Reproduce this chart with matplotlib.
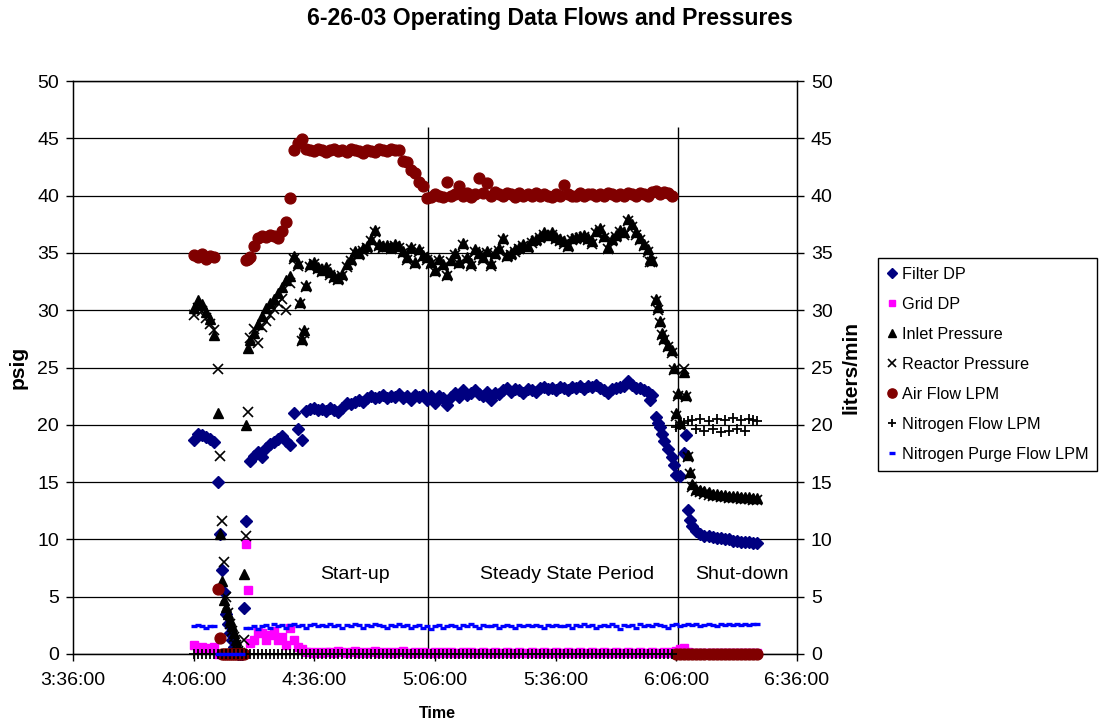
import numpy as np
import matplotlib
matplotlib.use("Agg")
import matplotlib.pyplot as plt
from matplotlib.ticker import FixedLocator, FuncFormatter

plt.rcParams['font.family'] = ['Liberation Sans', 'DejaVu Sans']

nan = float('nan')

# Readings logged once a minute, 4:06 to 6:26 (minutes after midnight)
start_min = 246
end_min = 386
minutes = np.arange(start_min, end_min + 1)

filter_dp = [
    18.7, 19.2, 19.1, 18.9, 18.8, 18.5,
    15.0, 7.3, 3.5, 1.8, 0.6, 0.0, 0.0, 11.6,
    16.8, 17.3, 17.6, 17.2, 18.0, 18.3, 18.5, 18.8, 19.0, 18.6,
    18.2, 21.0, 19.6, 18.7, 21.2, 21.4, 21.5, 21.3, 21.4, 21.2,
    21.5, 21.3, 21.1, 21.5, 21.9, 21.8, 22.0, 22.2, 22.0, 22.3,
    22.5, 22.3, 22.4, 22.6, 22.3, 22.5, 22.4, 22.7, 22.3, 22.5,
    22.2, 22.6, 22.4, 22.6, 22.2, 22.5, 21.9, 22.5, 22.3, 21.7,
    22.4, 22.8, 22.4, 23.0, 22.6, 22.8, 23.0, 22.7, 22.5, 22.9,
    22.2, 22.8, 22.7, 23.0, 23.2, 22.9, 23.1, 23.0, 22.8, 23.1,
    23.0, 22.9, 23.2, 23.3, 23.1, 23.2, 23.0, 23.3, 23.2, 23.0,
    23.3, 23.2, 23.4, 23.1, 23.4, 23.3, 23.5, 23.2, 23.0, 22.8,
    23.1, 23.2, 23.3, 23.4, 23.8, 23.5, 23.2, 23.2, 23.0, 22.9,
    22.6, 20.7, 19.8, 18.6, 17.9, 17.2, 15.6, 15.5, 17.5, 12.6,
    11.2, 10.7, 10.5, 10.3, 10.3, 10.2, 10.1, 10.1, 10.0, 10.0,
    9.9, 9.9, 9.8, 9.8, 9.8, 9.7, 9.7,
]

grid_dp = [
    0.8, 0.5, 0.6, 0.4, 0.5, 0.6,
    0.0, 0.0, 0.0, 0.0, 0.0, 0.0, 0.0, 9.6,
    1.0, 1.2, 1.9, 1.8, 1.2, 1.7, 2.0, 1.2, 1.5, 0.8,
    2.3, 1.2, 0.6, 0.4, 0.2, 0.2, 0.1, 0.2, 0.1, 0.2,
    0.2, 0.1, 0.3, 0.2, 0.1, 0.2, 0.3, 0.1, 0.2, 0.1,
    0.2, 0.3, 0.1, 0.2, 0.1, 0.2, 0.1, 0.2, 0.3, 0.1,
    0.1, 0.2, 0.1, 0.2, 0.1, 0.1, 0.2, 0.1, 0.2, 0.1,
    0.2, 0.1, 0.1, 0.2, 0.1, 0.2, 0.1, 0.1, 0.2, 0.1,
    0.1, 0.2, 0.1, 0.1, 0.2, 0.1, 0.1, 0.2, 0.1, 0.1,
    0.2, 0.1, 0.1, 0.2, 0.1, 0.1, 0.2, 0.1, 0.1, 0.2,
    0.1, 0.1, 0.2, 0.1, 0.1, 0.2, 0.1, 0.1, 0.2, 0.1,
    0.1, 0.2, 0.1, 0.1, 0.2, 0.1, 0.1, 0.2, 0.1, 0.1,
    0.2, 0.1, 0.1, 0.2, 0.1, 0.2, 0.3, 0.4, 0.5, 0.2,
    0.1, 0.1, 0.1, 0.1, 0.1, 0.1, 0.1, 0.1, 0.1, 0.1,
    0.1, 0.1, 0.1, 0.1, 0.1, 0.1, 0.1,
]

inlet_pressure = [
    30.2, 30.9, 30.5, 29.8, 29.2, 27.8,
    21.0, 6.4, 4.1, 3.0, 1.8, 0.6, 0.2, 20.0,
    27.4, 28.0, 28.8, 29.5, 30.2, 30.6, 31.0, 31.5, 32.0, 32.6,
    33.0, 34.7, 34.1, 27.5, 32.2, 34.0, 34.2, 33.8, 33.5, 33.8,
    33.3, 33.0, 32.8, 33.2, 34.0, 34.5, 35.2, 35.0, 35.4, 35.6,
    36.2, 37.0, 35.8, 35.6, 35.7, 35.5, 35.8, 35.6, 35.2, 34.6,
    35.5, 34.2, 35.3, 34.8, 34.6, 34.2, 33.5, 34.5, 34.0, 33.2,
    34.4, 35.0, 34.2, 35.9, 34.6, 34.1, 35.3, 35.0, 34.6, 35.2,
    34.1, 35.0, 35.4, 36.3, 34.8, 35.0, 35.3, 35.5, 35.8, 35.6,
    36.1, 36.2, 36.5, 36.8, 36.6, 36.8, 36.4, 36.2, 36.0, 35.7,
    36.3, 36.4, 36.5, 36.6, 36.3, 36.0, 36.9, 37.2, 36.5, 35.5,
    36.2, 36.6, 37.0, 36.8, 38.0, 37.5, 36.8, 36.3, 35.8, 35.3,
    34.4, 31.0, 29.1, 27.6, 27.0, 26.5, 21.0, 20.2, 24.6, 17.4,
    14.8, 14.4, 14.3, 14.2, 14.1, 14.0, 14.0, 13.9, 13.9, 13.8,
    13.8, 13.8, 13.7, 13.7, 13.7, 13.6, 13.6,
]

reactor_pressure = [
    29.6, 30.2, 29.9, 29.3, 28.8, 28.3,
    24.9, 11.6, 5.0, 2.6, 1.5, 0.3, 0.0, 10.3,
    27.6, 28.4, 27.1, 28.5, 29.1, 29.6, 30.1, 30.6, 31.0, 30.0,
    32.4, 34.5, 33.9, 27.3, 32.0, 33.8, 34.0, 33.6, 33.3, 33.6,
    33.1, 32.8, 32.6, 33.0, 33.8, 34.3, 35.0, 34.8, 35.2, 35.4,
    36.0, 36.8, 35.6, 35.4, 35.5, 35.3, 35.6, 35.4, 35.0, 34.4,
    35.3, 34.0, 35.1, 34.6, 34.4, 34.0, 33.3, 34.3, 33.8, 33.0,
    34.2, 34.8, 34.0, 35.7, 34.4, 33.9, 35.1, 34.8, 34.4, 35.0,
    33.9, 34.8, 35.2, 36.1, 34.6, 34.8, 35.1, 35.3, 35.6, 35.4,
    35.9, 36.0, 36.3, 36.6, 36.4, 36.6, 36.2, 36.0, 35.8, 35.5,
    36.1, 36.2, 36.3, 36.4, 36.1, 35.8, 36.7, 37.0, 36.3, 35.3,
    36.0, 36.4, 36.8, 36.6, 37.8, 37.3, 36.6, 36.1, 35.6, 35.1,
    34.2, 30.8, 28.9, 27.4, 26.8, 26.3, 20.8, 20.0, 24.9, 17.2,
    14.6, 14.2, 14.1, 14.0, 13.9, 13.8, 13.8, 13.7, 13.7, 13.6,
    13.6, 13.6, 13.5, 13.5, 13.5, 13.4, 13.4,
]

air_flow = [
    34.8, 34.6, 34.9, 34.5, 34.7, 34.6,
    5.7, 0.0, 0.0, 0.0, 0.0, 0.0, 0.0, 34.4,
    34.6, 35.6, 36.3, 36.5, 36.4, 36.6, 36.5, 36.3, 36.9, 37.7,
    39.8, 44.0, 44.6, 44.9, 44.1, 44.0, 43.9, 44.1, 44.0, 43.8,
    44.0, 44.1, 43.9, 44.0, 43.8, 44.1, 44.0, 43.9, 43.7, 44.0,
    43.9, 43.8, 44.1, 44.0, 43.9, 44.1, 44.0, 44.0, 43.0, 42.9,
    42.2, 42.0, 41.2, 40.8, 39.8, 39.9, 40.1, 40.0, 39.9, 41.2,
    40.0, 40.1, 40.8, 40.0, 40.2, 39.9, 40.1, 41.5, 40.2, 41.1,
    40.0, 40.3, 40.1, 40.0, 40.2, 40.1, 39.9, 40.2, 40.0, 40.1,
    40.0, 40.2, 40.0, 40.1, 40.0, 39.9, 40.1, 40.0, 40.9, 40.1,
    40.0, 40.0, 40.2, 40.0, 40.1, 40.1, 40.0, 40.1, 40.0, 40.2,
    40.1, 40.0, 40.1, 40.0, 40.2, 40.1, 40.0, 40.2, 40.1, 40.0,
    40.3, 40.4, 40.1, 40.3, 40.2, 40.0, 0.0, 0.0, 0.0, 0.0,
    0.0, 0.0, 0.0, 0.0, 0.0, 0.0, 0.0, 0.0, 0.0, 0.0,
    0.0, 0.0, 0.0, 0.0, 0.0, 0.0, 0.0,
]

nitrogen_flow = [0.0] * 120 + [
    19.8, 20.0, 20.2, 20.3, 20.4, 19.6, 20.5, 19.5, 20.3, 19.6,
    20.5, 19.4, 20.4, 19.5, 20.6, 19.6, 20.4, 19.5, 20.5, 20.4,
    20.3,
]

purge_flow = [
    2.4, 2.5, 2.4, 2.3, 2.4, 2.4,
    0.0, 0.0, 0.0, 0.0, 0.0, 0.0, 0.0, 2.3,
    2.3, 2.4, 2.2, 2.4, 2.5, 2.3, 2.6, 2.4, 2.5, 2.3,
    2.5, 2.6, 2.4, 2.5, 2.3, 2.5, 2.6, 2.4, 2.5, 2.4,
    2.6, 2.4, 2.5, 2.3, 2.5, 2.4, 2.6, 2.5, 2.3, 2.5,
    2.4, 2.6, 2.5, 2.4, 2.3, 2.5, 2.4, 2.6, 2.4, 2.5,
    2.3, 2.4, 2.5, 2.3, 2.4, 2.2, 2.4, 2.5, 2.3, 2.4,
    2.5, 2.4, 2.3, 2.5, 2.4, 2.6, 2.4, 2.3, 2.5, 2.4,
    2.4, 2.5, 2.3, 2.4, 2.5, 2.4, 2.3, 2.5, 2.4, 2.5,
    2.4, 2.5, 2.4, 2.3, 2.5, 2.4, 2.5, 2.4, 2.4, 2.5,
    2.3, 2.5, 2.4, 2.6, 2.4, 2.5, 2.3, 2.4, 2.5, 2.4,
    2.6, 2.4, 2.2, 2.5, 2.4, 2.5, 2.3, 2.6, 2.4, 2.5,
    2.4, 2.6, 2.5, 2.4, 2.3, 2.5, 2.6, 2.4, 2.5, 2.6,
    2.5, 2.6, 2.4, 2.5, 2.6, 2.5, 2.4, 2.6, 2.5, 2.6,
    2.5, 2.6, 2.5, 2.6, 2.5, 2.6, 2.6,
]

# Additional half-minute readings around the start-up trip and the shut-down
extra_minutes = [252.5, 253.5, 254.5, 255.5, 256.5, 257.5, 258.5, 259.5,
                 272.5, 273.5, 359.5, 361.5, 362.5, 365.5, 366.5, 368.5, 369.5]
filter_dp_extra = [10.5, 5.4, 2.6, 1.2, 0.2, 0.0, 4.0, nan,
                   nan, nan, 22.2, 20.2, 19.2, 16.5, nan, 19.1, 11.7]
grid_dp_extra = [nan, nan, nan, nan, nan, nan, nan, 5.6,
                 nan, nan, nan, nan, nan, nan, nan, nan, nan]
inlet_extra = [10.5, 4.7, 3.5, 2.4, 1.2, 0.2, 7.0, 26.7,
               30.7, 28.3, 34.5, 30.3, 28.0, 25.0, 22.8, 22.6, 15.9]
reactor_extra = [17.3, 8.0, 3.6, 2.0, 0.8, 0.1, 1.2, 21.1,
                 30.5, 28.0, 34.2, 30.0, 27.8, 24.8, 22.5, 22.4, 15.7]
air_flow_extra = [1.4, 0.0, 0.0, 0.0, 0.0, 0.0, 0.0, 34.5,
                  nan, nan, nan, nan, nan, nan, nan, nan, nan]

phase_bounds = [304.3, 366.4]
phase_line_top = 46.0
phase_names = ["Start-up", "Steady State Period", "Shut-down"]
phase_label_x = [286.1, 338.8, 382.3]
phase_label_y = 6.9

x_ticks = [216, 246, 276, 306, 336, 366, 396]
y_ticks = [0, 5, 10, 15, 20, 25, 30, 35, 40, 45, 50]

fig = plt.figure(figsize=(10.99, 7.25), dpi=100)
ax = fig.add_axes([73 / 1099, 1 - 654 / 725, (797 - 73) / 1099, (654 - 81) / 725])


def both(main, extra):
    t = np.concatenate([minutes, extra_minutes])
    v = np.concatenate([np.asarray(main, float), np.asarray(extra, float)])
    return t, v


series = [
    ("Filter DP", both(filter_dp, filter_dp_extra),
     dict(marker='D', color='#000080', ms=6.0, mec='#000080')),
    ("Grid DP", both(grid_dp, grid_dp_extra),
     dict(marker='s', color='#FF00FF', ms=5.8, mec='#FF00FF')),
    ("Inlet Pressure", both(inlet_pressure, inlet_extra),
     dict(marker='^', color='black', ms=7.0, mec='black')),
    ("Reactor Pressure", both(reactor_pressure, reactor_extra),
     dict(marker='x', color='black', ms=6.5, mew=1.2)),
    ("Air Flow LPM", both(air_flow, air_flow_extra),
     dict(marker='o', color='#800000', ms=7.8, mec='#800000')),
    ("Nitrogen Flow LPM", (minutes, np.asarray(nitrogen_flow, float)),
     dict(marker='+', color='black', ms=7.0, mew=1.3)),
    ("Nitrogen Purge Flow LPM", (minutes, np.asarray(purge_flow, float)),
     dict(marker='_', color='#0000FF', ms=5.0, mew=2.4)),
]

# Markers sitting on the zero line are drawn whole, spilling past the axis
for z, (name, (t, v), style) in enumerate(series):
    ax.plot(t, v, linestyle='none', label=name, zorder=3 + z * 0.1,
            clip_on=False, **style)

ax.vlines(phase_bounds, 0, phase_line_top, color='black', lw=1.0, zorder=2)
for name, x in zip(phase_names, phase_label_x):
    ax.text(x, phase_label_y, name, ha='center', va='center', fontsize=14)

ax.set_xlim(x_ticks[0], x_ticks[-1])
ax.set_ylim(0, 50)
ax.xaxis.set_major_locator(FixedLocator(x_ticks))
ax.xaxis.set_major_formatter(FuncFormatter(
    lambda m, _: f"{int(m) // 60}:{int(m) % 60:02d}:00"))
ax.yaxis.set_major_locator(FixedLocator(y_ticks))
ax.grid(axis='y', color='black', lw=0.9)
ax.set_axisbelow(True)
for s in ax.spines.values():
    s.set_color('black')
    s.set_linewidth(1.0)
ax.tick_params(axis='both', direction='out', length=5, width=1,
               labelsize=14, colors='black')
ax.tick_params(axis='x', pad=8)
ax.tick_params(axis='y', pad=5)

ax2 = ax.twinx()
ax2.set_ylim(0, 50)
ax2.yaxis.set_major_locator(FixedLocator(y_ticks))
ax2.tick_params(axis='y', direction='out', length=5, width=1,
                labelsize=14, pad=5)
ax2.set_zorder(ax.get_zorder() - 1)
ax.patch.set_visible(False)

fig.text(0.5, 1 - 18 / 725, "6-26-03 Operating Data Flows and Pressures",
         ha='center', va='center', fontsize=16.6, fontweight='bold')
fig.text(18 / 1099, 1 - 367 / 725, "psig", rotation=90, ha='center',
         va='center', fontsize=15, fontweight='bold')
fig.text(851 / 1099, 1 - 367 / 725, "liters/min", rotation=90, ha='center',
         va='center', fontsize=15, fontweight='bold')
fig.text(437 / 1099, 1 - 713 / 725, "Time", ha='center', va='center',
         fontsize=11.5, fontweight='bold')

leg = fig.legend(loc='upper left', bbox_to_anchor=(878 / 1099, 1 - 258 / 725),
                 fontsize=11.7, frameon=True, fancybox=False, framealpha=1,
                 edgecolor='black', handlelength=0.6, handletextpad=0.3,
                 labelspacing=0.92, borderpad=0.55, borderaxespad=0,
                 numpoints=1, markerscale=0.85)
leg.get_frame().set_linewidth(1.0)

fig.savefig("out.png", dpi=100)
